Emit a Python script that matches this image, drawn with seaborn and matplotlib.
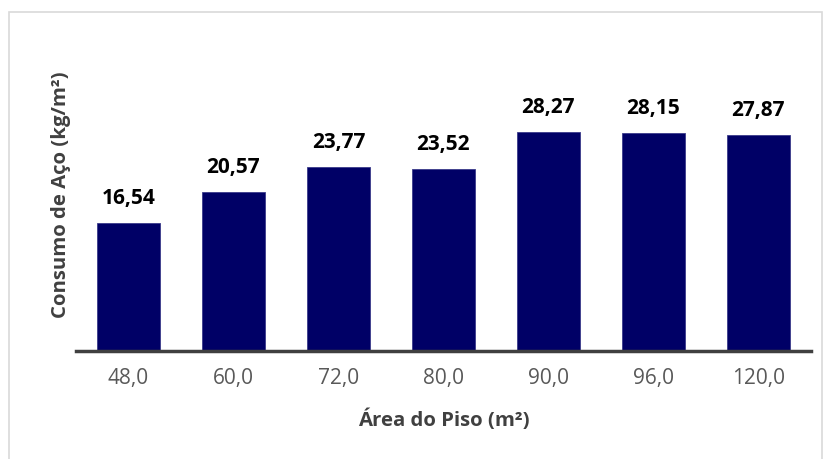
import matplotlib
matplotlib.use("Agg")
import matplotlib.pyplot as plt
import seaborn as sns
import pandas as pd

# data
areas = ["48,0", "60,0", "72,0", "80,0", "90,0", "96,0", "120,0"]
consumo = [16.54, 20.57, 23.77, 23.52, 28.27, 28.15, 27.87]

df = pd.DataFrame({"area": areas, "consumo": consumo})

sns.set_style("white")
plt.rcParams["font.family"] = ["Open Sans", "DejaVu Sans"]

fig = plt.figure(figsize=(8.29, 4.59), dpi=100)
ax = fig.add_axes([0.0917, 0.2353, 0.8863, 0.59])

sns.barplot(data=df, x="area", y="consumo", color="#000066", width=0.6,
            saturation=1, edgecolor="#3a3a8a", linewidth=0.6, ax=ax)

for i, v in enumerate(consumo):
    ax.text(i, v + 1.8, f"{v:.2f}".replace(".", ","), ha="center", va="bottom",
            fontsize=15, fontweight="bold", color="black")

ax.set_ylim(0, 35)
ax.set_xlim(-0.5, len(areas) - 0.5)
ax.set_yticks([])
ax.tick_params(axis="x", length=0, labelsize=15, colors="#595959", pad=12)
for s in ["top", "right", "left"]:
    ax.spines[s].set_visible(False)
ax.spines["bottom"].set_color("#404040")
ax.spines["bottom"].set_linewidth(2.5)

ax.set_xlabel("Área do Piso (m²)", fontsize=14.7, fontweight="bold", color="#404040", labelpad=15)
ax.set_ylabel("Consumo de Aço (kg/m²)", fontsize=14.7, fontweight="bold", color="#404040")
ax.yaxis.set_label_coords(-0.007, 0.576)

# light frame around the chart area
fig.patches.append(plt.Rectangle((9 / 829, -0.01), 813 / 829, 1 - 12.5 / 459 + 0.01,
                                 transform=fig.transFigure, fill=False,
                                 edgecolor="#d9d9d9", linewidth=1.2))

fig.savefig("out.png", dpi=100)
